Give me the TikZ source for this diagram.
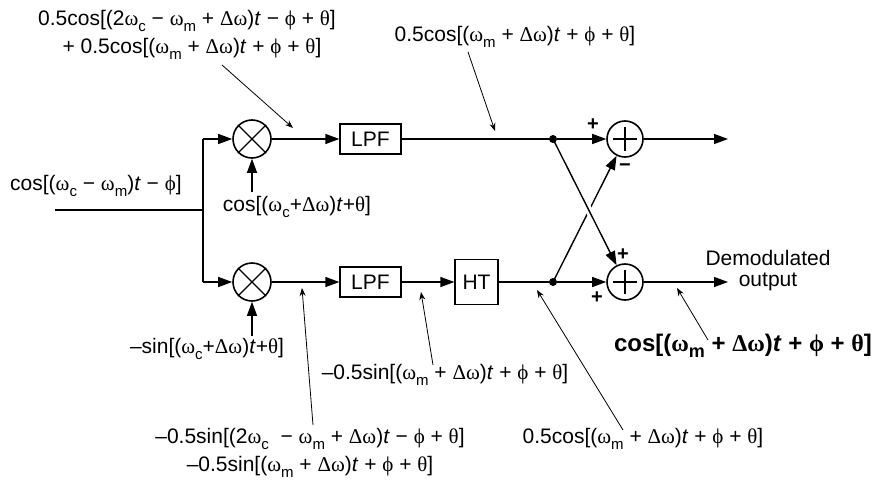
\documentclass[tikz,border=0pt]{standalone}
\usepackage{fontspec}
\setmainfont{Liberation Sans}
\newfontfamily\gk{Liberation Serif}
\usetikzlibrary{arrows.meta,calc}
\newcommand{\gom}{{\gk ω}}
\newcommand{\gDe}{{\gk Δ}}
\newcommand{\gph}{{\gk ϕ}}
\newcommand{\gth}{{\gk θ}}
\newcommand{\ti}{\textit{t}}
\newcommand{\sbx}[1]{\raisebox{-0.5ex}{\fontsize{15}{15}\selectfont #1}}
\newcommand{\sbxb}[1]{\raisebox{-0.5ex}{\fontsize{18}{18}\selectfont #1}}
\begin{document}
\begin{tikzpicture}[x=1pt,y=-1pt,
  txt/.style={font=\fontsize{21}{28}\selectfont, inner sep=0pt, align=center},
  sgn/.style={font=\fontsize{20}{20}\selectfont\bfseries, inner sep=0pt},
  blk/.style={draw, line width=1.3pt, minimum width=61pt, minimum height=30pt, inner sep=0pt, font=\fontsize{21}{21}\selectfont},
  mix/.style={draw, circle, line width=1.6pt, minimum size=38pt, inner sep=0pt},
  dotn/.style={circle, fill=black, minimum size=8pt, inner sep=0pt},
  wire/.style={line width=1.4pt},
  sig/.style={line width=1.4pt, -{Triangle[length=14pt,width=10pt]}},
  ann/.style={line width=0.8pt, -{Stealth[length=8pt,width=6pt]}},
]
\useasboundingbox (0,0) rectangle (885,487);

% blocks
\node[mix] (m1) at (252,139) {};
\node[mix] (m2) at (252,282) {};
\node[blk] (lpf1) at (370.5,139) {LPF};
\node[blk] (lpf2) at (370.5,282) {LPF};
\node[blk, minimum width=43pt, minimum height=45pt] (ht) at (476.5,282) {HT};
\node[mix, minimum size=36pt] (s1) at (625,139) {};
\node[mix, minimum size=36pt] (s2) at (625,282) {};

% symbols inside circles
\foreach \m in {m1,m2}{
  \draw[line width=1.4pt] (\m.45) -- (\m.225);
  \draw[line width=1.4pt] (\m.135) -- (\m.-45);
}
\foreach \s in {s1,s2}{
  \draw[line width=1.2pt] ($(\s.center)+(0,-12)$) -- ($(\s.center)+(0,12)$);
  \draw[line width=1.2pt] ($(\s.center)+(-12,0)$) -- ($(\s.center)+(12,0)$);
}

% coordinates
\coordinate (in) at (55,210);
\coordinate (br) at (203,210);
\coordinate (bt) at (203,139);
\coordinate (bb) at (203,282);
\coordinate (lo1) at (252,192);
\coordinate (lo2) at (252,336);
\coordinate (o1) at (728,139);
\coordinate (o2) at (728,282);

% wires
\draw[wire] (in) -- (br);
\draw[wire] (bb) -- (bt);
\draw[sig] (bt) -- (m1);
\draw[sig] (bb) -- (m2);
\draw[sig] (lo1) -- (m1);
\draw[sig] (lo2) -- (m2);
\draw[sig] (m1) -- (lpf1);
\draw[sig] (m2) -- (lpf2);
\node[dotn] (d1) at (553,139) {};
\node[dotn] (d2) at (553,282) {};
\draw[wire] (lpf1) -- (d1.center);
\draw[sig] (lpf2) -- (ht);
\draw[wire] (ht) -- (d2.center);
\draw[sig] (d1) -- (s1);
\draw[sig] (d2) -- (s2);
\draw[sig] (s1) -- (o1);
\draw[sig] (s2) -- (o2);
% crossing
\draw[sig] (d2.center) -- (s1);
\draw[white, line width=7pt, shorten <=45pt, shorten >=45pt] (d1.center) -- (s2);
\draw[sig] (d1.center) -- (s2);

% signs
\node[sgn] (p1) at (593,125) {+};
\node[sgn] (n1) at (625,168) {−};
\node[sgn] (p2) at (623,255) {+};
\node[sgn] (p3) at (597,298) {+};

% labels
\node[txt, anchor=west] (lin) at (10,186) {cos[(\gom\sbx{c} − \gom\sbx{m})\ti{} − \gph]};
\node[txt] (llo1) at (297,207) {cos[(\gom\sbx{c}+\gDe\gom)\ti+\gth]};
\node[txt] (llo2) at (207,349) {–sin[(\gom\sbx{c}+\gDe\gom)\ti+\gth]};
\node[txt, font=\fontsize{21}{21}\selectfont] (lout) at (768,271) {Demodulated\\output};

\node[txt] (t1) at (187,35) {0.5cos[(2\gom\sbx{c} − \gom\sbx{m} + \gDe\gom)\ti{} − \gph{} + \gth]\\\hspace*{10pt}+ 0.5cos[(\gom\sbx{m} + \gDe\gom)\ti{} + \gph{} + \gth]};
\node[txt] (t2) at (515,37) {0.5cos[(\gom\sbx{m} + \gDe\gom)\ti{} + \gph{} + \gth]};
\node[txt] (t3) at (445,375) {–0.5sin[(\gom\sbx{m} + \gDe\gom)\ti{} + \gph{} + \gth]};
\node[txt] (t4) at (310,453) {–0.5sin[(2\gom\sbx{c} \ − \gom\sbx{m} + \gDe\gom)\ti{} − \gph{} + \gth]\\–0.5sin[(\gom\sbx{m} + \gDe\gom)\ti{} + \gph{} + \gth]};
\node[txt] (t5) at (643,439) {0.5cos[(\gom\sbx{m} + \gDe\gom)\ti{} + \gph{} + \gth]};
\node[txt, font=\fontsize{24}{28}\selectfont\bfseries] (t6) at (743,346) {cos[(\gom\sbxb{m} + \gDe\gom)\ti{} + \gph{} + \gth]};

% annotation arrows
\coordinate (a1s) at (222,65);  \coordinate (a1e) at (293,128);
\coordinate (a2s) at (468,52);  \coordinate (a2e) at (495,131);
\coordinate (a3s) at (433,365); \coordinate (a3e) at (421,292);
\coordinate (a4s) at (313,425); \coordinate (a4e) at (302,288);
\coordinate (a5s) at (623,430); \coordinate (a5e) at (537,290);
\coordinate (a6s) at (708,340); \coordinate (a6e) at (677,288);
\foreach \i in {1,...,6}{ \draw[ann] (a\i s) -- (a\i e); }
\end{tikzpicture}
\end{document}
